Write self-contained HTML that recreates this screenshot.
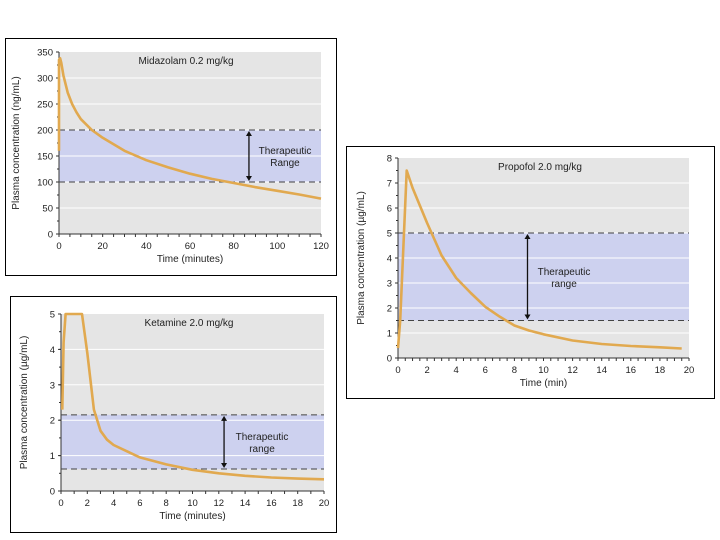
<!DOCTYPE html>
<html><head><meta charset="utf-8"><style>
html,body{margin:0;padding:0;background:#fff;width:720px;height:540px;overflow:hidden;font-family:"Liberation Sans",sans-serif}
svg{position:absolute;left:0;top:0}
</style></head><body>
<svg id="s" width="720" height="540" xmlns="http://www.w3.org/2000/svg"></svg>
<script>
const midTimes=[0,0,0.5,1,2,4,6,8,10,15,20,30,40,50,60,70,80,90,100,110,120];
const midValues=[160,335,338,330,305,272,250,234,221,200,185,160,142,128,116,106,98,90,83,76,68];
const midRange=[100,200];
const midXTicks=[0,20,40,60,80,100,120];
const midYTicks=[0,50,100,150,200,250,300,350];

const propTimes=[0,0.15,0.6,1,2,3,4,5,6,7,8,9,10,12,14,16,18,19.5];
const propValues=[0.4,1.5,7.5,6.8,5.4,4.1,3.2,2.6,2.05,1.65,1.3,1.1,0.95,0.7,0.56,0.48,0.43,0.38];
const propRange=[1.5,5];
const propXTicks=[0,2,4,6,8,10,12,14,16,18,20];
const propYTicks=[0,1,2,3,4,5,6,7,8];

const ketTimes=[0.1,0.2,0.35,1.6,2,2.5,3,3.5,4,6,8,10,12,14,16,18,20];
const ketValues=[2.3,4.2,5,5,3.9,2.3,1.7,1.45,1.3,0.95,0.75,0.6,0.5,0.43,0.38,0.35,0.33];
const ketRange=[0.62,2.15];
const ketXTicks=[0,2,4,6,8,10,12,14,16,18,20];
const ketYTicks=[0,1,2,3,4,5];

const NS="http://www.w3.org/2000/svg";
const svg=document.getElementById('s');
function mk(tag,attrs,parent){const e=document.createElementNS(NS,tag);for(const k in attrs)e.setAttribute(k,attrs[k]);(parent||svg).appendChild(e);return e;}

function panel(o){
  const g=mk('g',{});
  
  
  const box=mk('rect',{x:o.box[0]+0.5,y:o.box[1]+0.5,width:o.box[2],height:o.box[3],fill:'#fff',stroke:'#000','stroke-width':1},g);
  
  
  const xmax=o.xt[o.xt.length-1], ymax=o.yt[o.yt.length-1];
  const X=v=>o.x0+(o.x1-o.x0)*v/xmax;
  const Y=v=>o.y0-(o.y0-o.y1)*v/ymax;
  const bg=mk('rect',{x:o.x0,y:o.y1,width:o.x1-o.x0,height:o.y0-o.y1,fill:'#e5e5e5'},g);
  
  
  const band=mk('rect',{x:o.x0,y:Y(o.range[1]),width:o.x1-o.x0,height:Y(o.range[0])-Y(o.range[1]),fill:'#cdd1ef'},g);
  
  
  o.yt.forEach((t,i)=>{
    if(i>0&&i<o.yt.length-1){const l=mk('line',{x1:o.x0,x2:o.x1,y1:Y(t),y2:Y(t),stroke:'#fff','stroke-width':1},g);
      
      }
    const tl=mk('text',{x:o.x0-6,y:Y(t)+3.5,'font-size':9.5,'text-anchor':'end',fill:'#222'},g);tl.textContent=t;
    
    
    mk('line',{x1:o.x0-3,x2:o.x0,y1:Y(t),y2:Y(t),stroke:'#333'},g);
  });
  for(let v=0;v<=ymax;v+=o.ym)mk('line',{x1:o.x0-2,x2:o.x0,y1:Y(v),y2:Y(v),stroke:'#333'},g);
  for(let v=0;v<=xmax+1e-9;v+=o.xm)mk('line',{x1:X(v),x2:X(v),y1:o.y0,y2:o.y0+3,stroke:'#333'},g);
  o.xt.forEach(t=>{
    const tl=mk('text',{x:X(t),y:o.y0+15,'font-size':9.5,'text-anchor':'middle',fill:'#222'},g);tl.textContent=t;
    
    
  });
  mk('line',{x1:o.x0,x2:o.x0,y1:o.y1,y2:o.y0,stroke:'#333'},g);
  mk('line',{x1:o.x0,x2:o.x1,y1:o.y0,y2:o.y0,stroke:'#333'},g);
  o.range.forEach(r=>{const l=mk('line',{x1:o.x0,x2:o.x1,y1:Y(r),y2:Y(r),stroke:'#444','stroke-dasharray':'6,4','stroke-width':1},g);
    
    });
  const ax=X(o.arrowX);
  const a=mk('g',{},g);
  
  
  mk('line',{x1:ax,x2:ax,y1:Y(o.range[1])+3,y2:Y(o.range[0])-3,stroke:'#111','stroke-width':1.3},a);
  mk('path',{d:`M${ax-3},${Y(o.range[1])+6}L${ax},${Y(o.range[1])+1}L${ax+3},${Y(o.range[1])+6}Z`,fill:'#111'},a);
  mk('path',{d:`M${ax-3},${Y(o.range[0])-6}L${ax},${Y(o.range[0])-1}L${ax+3},${Y(o.range[0])-6}Z`,fill:'#111'},a);
  const my=(Y(o.range[0])+Y(o.range[1]))/2;
  const t1=mk('text',{x:o.labelX,y:my-2,'font-size':10,'text-anchor':'middle',fill:'#222'},g);t1.textContent='Therapeutic';
  
  
  const t2=mk('text',{x:o.labelX,y:my+10,'font-size':10,'text-anchor':'middle',fill:'#222'},g);t2.textContent=o.rangeWord;
  
  
  const d=o.t.map((t,i)=>(i?'L':'M')+X(t).toFixed(1)+','+Y(o.v[i]).toFixed(1)).join('');
  const c=mk('path',{d:d,fill:'none',stroke:'#e1a94f','stroke-width':2.6,'stroke-linejoin':'round'},g);
  
  
  const ti=mk('text',{x:o.titleX,y:o.y1+12,'font-size':10,'text-anchor':'middle',fill:'#222'},g);ti.textContent=o.title;
  
  
  const xl=mk('text',{x:(o.x0+o.x1)/2,y:o.y0+28,'font-size':10,'text-anchor':'middle',fill:'#222'},g);xl.textContent=o.xlabel;
  
  
  const yl=mk('text',{x:0,y:0,'font-size':10,'text-anchor':'middle',fill:'#222',transform:`translate(${o.ylx},${(o.y0+o.y1)/2}) rotate(-90)`},g);yl.textContent=o.ylabel;
  
  
}
panel({name:'midazolam-panel',box:[5,38,331,237],x0:59,x1:321,y0:234,y1:52,xt:midXTicks,yt:midYTicks,xm:5,ym:25,t:midTimes,v:midValues,range:midRange,arrowX:87,labelX:285,rangeWord:'Range',title:'Midazolam 0.2 mg/kg',titleX:186,xlabel:'Time (minutes)',ylabel:'Plasma concentration (ng/mL)',ylx:19});
panel({name:'propofol-panel',box:[346,146,368,252],x0:398,x1:689,y0:358,y1:158,xt:propXTicks,yt:propYTicks,xm:0.5,ym:0.5,t:propTimes,v:propValues,range:propRange,arrowX:8.9,labelX:564,rangeWord:'range',title:'Propofol 2.0 mg/kg',titleX:540,xlabel:'Time (min)',ylabel:'Plasma concentration (\u00b5g/mL)',ylx:364});
panel({name:'ketamine-panel',box:[10,296,326,236],x0:61,x1:324,y0:491,y1:314,xt:ketXTicks,yt:ketYTicks,xm:1,ym:0.5,t:ketTimes,v:ketValues,range:ketRange,arrowX:12.4,labelX:262,rangeWord:'range',title:'Ketamine 2.0 mg/kg',titleX:189,xlabel:'Time (minutes)',ylabel:'Plasma concentration (\u00b5g/mL)',ylx:27});
</script>
</body></html>
